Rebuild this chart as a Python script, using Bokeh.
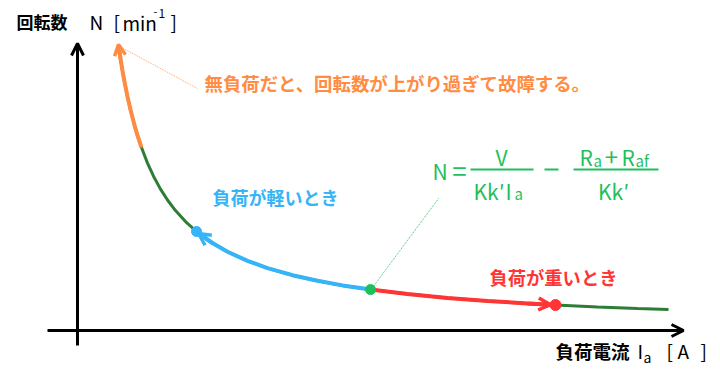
from bokeh.plotting import figure
from bokeh.models import Range1d, Label, Arrow, OpenHead
from bokeh.embed import file_html
from bokeh.resources import INLINE

# Load current Ia (arbitrary units) and speed N (arbitrary units)
curve_ia = [41, 43, 45, 47, 50, 53, 57, 60, 64, 70, 76, 83, 90, 98, 108, 119,
            135, 150, 170, 190, 215, 240, 265, 293, 330, 370, 410, 450, 478, 520, 560, 591]
curve_n = [285.0, 271.7, 259.7, 248.7, 233.9, 220.7, 205.3, 195.1, 183.0, 167.4, 154.3,
           141.4, 130.5, 119.9, 108.9, 99.0, 87.4, 78.8, 69.6, 62.4, 55.3, 49.7, 45.1,
           40.9, 36.5, 32.6, 29.6, 27.1, 25.5, 23.6, 22.0, 20.9]

# operating points
no_load_ia = 41
light_ia = 119
rated_ia = 293
heavy_ia = 478

FONT = "Noto Sans CJK JP"
ORANGE = "#ff8c42"
BLUE = "#35b4f7"
RED = "#ff3535"
DKGREEN = "#2e7d36"
GREEN = "#1fbf5c"

def seg(lo, hi):
    xs = [a for a in curve_ia if lo <= a <= hi]
    ys = [b for a, b in zip(curve_ia, curve_n) if lo <= a <= hi]
    return xs, ys

def n_at(ia):
    return dict(zip(curve_ia, curve_n))[ia]

p = figure(width=720, height=380, output_backend="svg", toolbar_location=None,
           x_range=Range1d(-77, 643), y_range=Range1d(-50, 330),
           min_border=0, min_border_left=0, min_border_right=0,
           min_border_top=0, min_border_bottom=0)
p.axis.visible = False
p.grid.visible = False
p.outline_line_color = None
p.background_fill_color = "white"
p.border_fill_color = "white"

# axes with arrows
p.add_layout(Arrow(end=OpenHead(size=12, line_width=3, line_color="black"),
                   x_start=-30, y_start=0, x_end=606, y_end=0,
                   line_width=3, line_color="black"))
p.add_layout(Arrow(end=OpenHead(size=12, line_width=3, line_color="black"),
                   x_start=0, y_start=-15, x_end=0, y_end=287,
                   line_width=3, line_color="black"))

# base curve
p.line(curve_ia, curve_n, line_width=3, line_color=DKGREEN)

# orange segment
xs, ys = seg(no_load_ia, 64)
p.line(xs, ys, line_width=4, line_color=ORANGE)
p.add_layout(Arrow(end=OpenHead(size=11, line_width=3.5, line_color=ORANGE),
                   x_start=curve_ia[1], y_start=curve_n[1], x_end=no_load_ia, y_end=n_at(no_load_ia) + 1,
                   line_width=4, line_color=ORANGE))

# blue segment
xs, ys = seg(light_ia, rated_ia)
p.line(xs, ys, line_width=4, line_color=BLUE)
p.add_layout(Arrow(end=OpenHead(size=12, line_width=3.5, line_color=BLUE),
                   x_start=135, y_start=n_at(135), x_end=light_ia + 2, y_end=n_at(light_ia) - 2,
                   line_width=4, line_color=BLUE))

# red segment
xs, ys = seg(rated_ia, heavy_ia)
p.line(xs, ys, line_width=4, line_color=RED)
p.add_layout(Arrow(end=OpenHead(size=12, line_width=3.5, line_color=RED),
                   x_start=450, y_start=n_at(450), x_end=heavy_ia - 5, y_end=n_at(heavy_ia) + 0.3,
                   line_width=4, line_color=RED))

# points
p.scatter([light_ia], [n_at(light_ia)], size=10, color=BLUE)
p.scatter([rated_ia], [n_at(rated_ia)], size=10, color=GREEN)
p.scatter([heavy_ia], [n_at(heavy_ia)], size=11, color=RED)

# leader lines
p.line([no_load_ia + 3, 120], [n_at(no_load_ia) - 2, 242], line_width=1, line_color=ORANGE,
       line_dash="1 1", line_alpha=0.8)
p.line([rated_ia + 2, 361], [n_at(rated_ia) + 2, 132], line_width=1, line_color=GREEN,
       line_dash="1 1", line_alpha=0.9)

def lab(x, y, text, size, color, style="normal", align="left"):
    p.add_layout(Label(x=x - 77, y=330 - y, text=text, text_font=FONT,
                       text_font_size=f"{size}px", text_color=color,
                       text_font_style=style, text_align=align, text_baseline="middle"))

# y title
lab(16, 21, "回転数", 17, "black", "bold")
lab(89, 21, "N", 19, "black")
lab(113, 21, "[", 19, "black")
lab(122, 22, "min", 19, "black")
lab(153, 11, "-", 11, "black")
lab(158, 13, "1", 12, "black")
lab(170, 21, "]", 19, "black")

# x title
lab(555, 350, "負荷電流", 18.5, "black", "bold")
lab(637, 350, "I", 19, "black")
lab(643, 356, "a", 14, "black")
lab(666, 350, "[", 19, "black")
lab(677, 350, "A", 19, "black")
lab(700, 350, "]", 19, "black")

# annotations
lab(204, 82, "無負荷だと、回転数が上がり過ぎて故障する。", 18.4, ORANGE, "bold")
lab(212, 196, "負荷が軽いとき", 18, BLUE, "bold")
lab(489, 276, "負荷が重いとき", 18.3, RED, "bold")

# formula
lab(432, 170, "N", 21, GREEN)
lab(459, 169, "=", 26, GREEN, align="center")
p.line([470 - 77, 533 - 77], [330 - 169, 330 - 169], line_width=2, line_color=GREEN)
lab(501, 156, "V", 21, GREEN, align="center")
lab(473, 190, "Kk\u2032", 21, GREEN)
lab(505, 190, "I", 21, GREEN)
lab(514, 193, "a", 15, GREEN)
p.line([544 - 77, 558 - 77], [330 - 169, 330 - 169], line_width=2, line_color=GREEN)
p.line([573 - 77, 658 - 77], [330 - 169, 330 - 169], line_width=2, line_color=GREEN)
lab(579, 156, "R", 21, GREEN)
lab(593, 160, "a", 15, GREEN)
lab(611, 156, "+", 24, GREEN, align="center")
lab(621, 156, "R", 21, GREEN)
lab(635, 160, "af", 15, GREEN)
lab(613, 190, "Kk\u2032", 21, GREEN, align="center")

open("out.html", "w").write(file_html(p, INLINE))
